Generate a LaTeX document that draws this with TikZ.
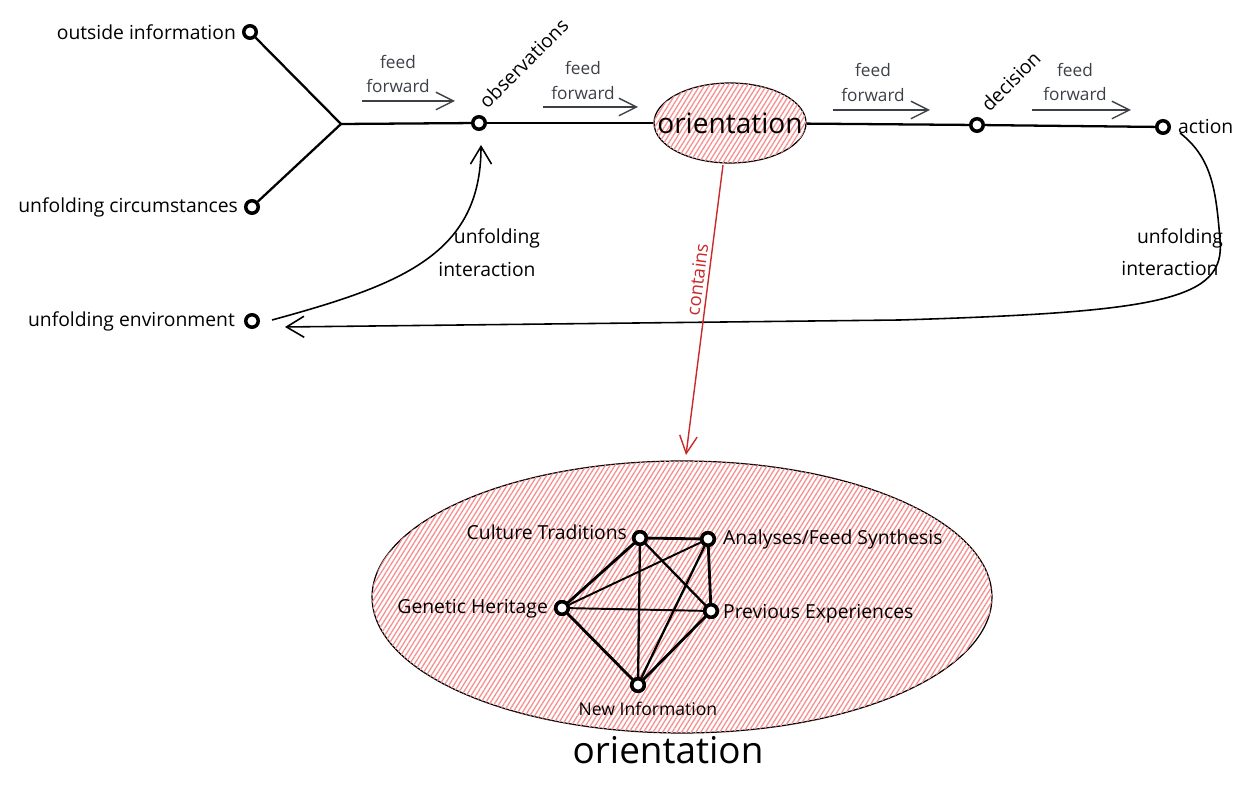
\documentclass[tikz,border=0pt]{standalone}
\usepackage{fontspec}
\setmainfont{Open Sans}
\usetikzlibrary{arrows.meta,patterns.meta,shapes.geometric}
\definecolor{ffgray}{HTML}{3D4147}
\definecolor{redline}{HTML}{C92A2A}
\definecolor{hatchred}{HTML}{F79191}
\begin{document}
\begin{tikzpicture}[x=0.02cm,y=-0.02cm,
  dot/.style={circle,draw=black,line width=2pt,fill=white,minimum size=0.25cm,inner sep=0pt},
  lbl/.style={font=\fontsize{11}{13}\selectfont,text=black,inner sep=1pt},
  ff/.style={font=\fontsize{9.8}{11}\selectfont,text=ffgray,inner sep=0pt},
  ffarrow/.style={draw=ffgray,line width=0.8pt,-{Straight Barb[length=10pt,width=10pt]}},
  mainedge/.style={line width=1.3pt},
  backarrow/.style={line width=0.9pt,-{Straight Barb[length=10pt,width=12pt]}},
  hatch/.style={ellipse,draw=black,line width=0.7pt,fill=white,inner sep=0pt,
    postaction={pattern={Lines[angle=58,distance=2.3pt,line width=0.75pt]},pattern color=hatchred}},
]
\useasboundingbox (0,0) rectangle (1248,786);

% top row nodes
\node[dot] (oi) at (250,32) {};
\node[dot] (uc) at (252,207) {};
\coordinate (j) at (341,124);
\node[dot] (obs) at (479,123) {};
\node[hatch,minimum width=3.04cm,minimum height=1.6cm] (orient) at (730,123) {};
\node[font=\fontsize{16}{18}\selectfont,inner sep=0pt] (orientt) at (730,123) {orientation};
\node[dot] (dec) at (977,125) {};
\node[dot] (act) at (1163,127) {};
\node[dot] (env) at (252,321) {};

% labels
\node[lbl,anchor=east] (oil) at (238,32) {outside information};
\node[lbl,anchor=east] (ucl) at (240,207) {unfolding circumstances};
\node[lbl,anchor=east] (envl) at (237,321) {unfolding environment};
\node[lbl,rotate=45,anchor=base west] (obsl) at (486,111) {observations};
\node[lbl,rotate=45,anchor=base west] (decl) at (988,114) {decision};
\node[lbl,anchor=west] (actl) at (1176,127) {action};

% main edges
\draw[mainedge] (oi) -- (j);
\draw[mainedge] (uc) -- (j);
\draw[mainedge] (j) -- (obs);
\draw[mainedge] (obs) -- (orient);
\draw[mainedge] (orient) -- (dec);
\draw[mainedge] (dec) -- (act);

% feed forward labels and arrows
\node[ff] (f1a) at (398,62) {feed};
\node[ff] (f1b) at (398,86) {forward};
\coordinate (a1s) at (362,101); \coordinate (a1e) at (455,101);
\draw[ffarrow] (a1s) -- (a1e);
\node[ff] (f2a) at (583,68) {feed};
\node[ff] (f2b) at (583,93) {forward};
\coordinate (a2s) at (543,107); \coordinate (a2e) at (638,107);
\draw[ffarrow] (a2s) -- (a2e);
\node[ff] (f3a) at (873,70) {feed};
\node[ff] (f3b) at (873,95) {forward};
\coordinate (a3s) at (833,110); \coordinate (a3e) at (930,110);
\draw[ffarrow] (a3s) -- (a3e);
\node[ff] (f4a) at (1075,70) {feed};
\node[ff] (f4b) at (1075,94) {forward};
\coordinate (a4s) at (1032,110); \coordinate (a4e) at (1131,110);
\draw[ffarrow] (a4s) -- (a4e);

% feedback curves
\coordinate (envout) at (272,320);
\coordinate (obsin) at (481,145);
\draw[backarrow] (envout) .. controls (400,285) and (481,255) .. (obsin);
\node[lbl] (ui1) at (497,238) {unfolding};
\node[lbl] (ui2) at (487,270) {interaction};

\coordinate (actout) at (1180,133);
\coordinate (envin) at (285,327);
\draw[backarrow] (actout) .. controls (1212,158) and (1216,190) .. (1220,240)
  .. controls (1226,300) and (1160,312) .. (900,320) -- (envin);
\node[lbl] (ui3) at (1180,238) {unfolding};
\node[lbl] (ui4) at (1170,269) {interaction};

% big orientation ellipse
\node[hatch,minimum width=12.4cm,minimum height=5.44cm] (big) at (682,597) {};
\node[font=\fontsize{21}{24}\selectfont,inner sep=0pt] (bigl) at (668,750) {orientation};

% contains arrow
\coordinate (cs) at (723,165);
\coordinate (ce) at (686,455);
\draw[draw=redline,line width=0.8pt,-{Straight Barb[length=10pt,width=10pt]}] (cs) --
  node[pos=0.4,sloped,above,text=redline,font=\fontsize{10.5}{12}\selectfont,inner sep=2pt] {contains} (ce);

% inner graph
\node[dot] (ct) at (640,538) {};
\node[dot] (af) at (708,539) {};
\node[dot] (gh) at (562,608) {};
\node[dot] (pe) at (711,611) {};
\node[dot] (ni) at (638,685) {};
\draw[line width=1.6pt] (ct) -- (af);
\draw[line width=1.6pt] (ct) -- (gh);
\draw[line width=1.3pt] (ct) -- (ni);
\draw[line width=1.3pt] (ct) -- (pe);
\draw[line width=1.1pt] (af) -- (gh);
\draw[line width=1.6pt] (af) -- (pe);
\draw[line width=1.3pt] (af) -- (ni);
\draw[line width=1.1pt] (gh) -- (pe);
\draw[line width=1.6pt] (gh) -- (ni);
\draw[line width=1.6pt] (pe) -- (ni);
\node[dot] at (ct) {};
\node[dot] at (af) {};
\node[dot] at (gh) {};
\node[dot] at (pe) {};
\node[dot] at (ni) {};

\node[lbl,anchor=east] (ctl) at (629,532) {Culture Traditions};
\node[lbl,anchor=west] (afl) at (721,539) {Analyses/Feed Synthesis};
\node[lbl,anchor=east] (ghl) at (550,609) {Genetic Heritage};
\node[lbl,anchor=west] (pel) at (721,614) {Previous Experiences};
\node[lbl,font=\fontsize{10}{12}\selectfont] (nil) at (648,709) {New Information};
\end{tikzpicture}
\end{document}
